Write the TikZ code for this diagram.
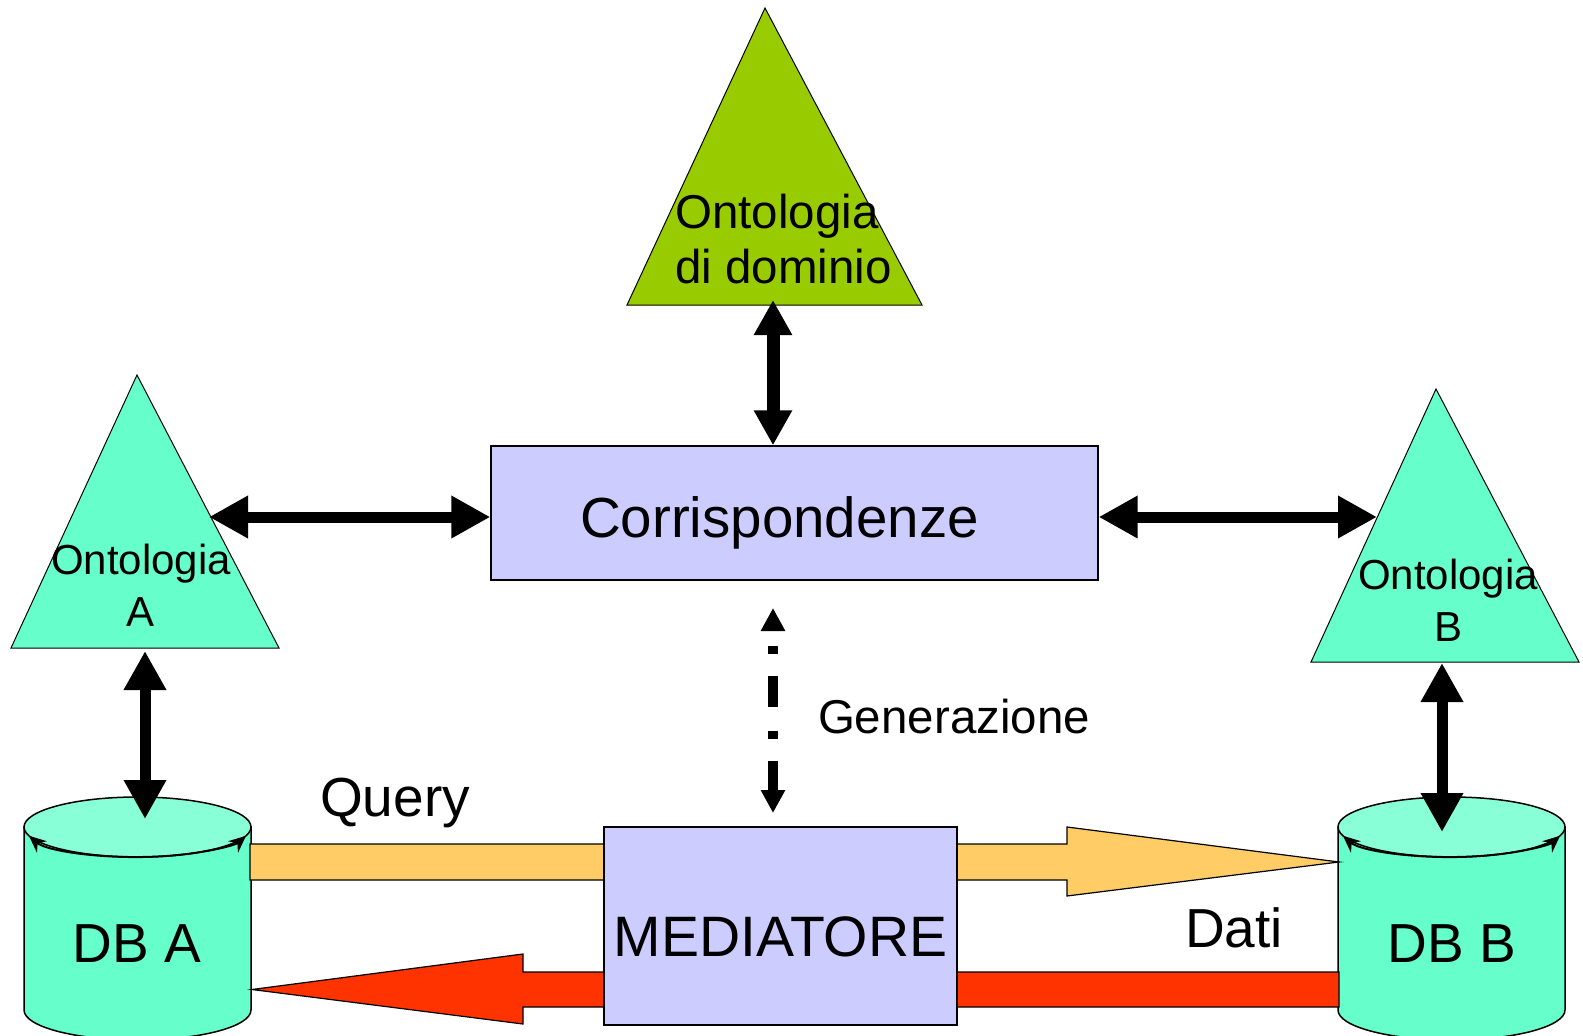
\documentclass[tikz,border=0pt]{standalone}
\usepackage{fontspec}
\setmainfont{Liberation Sans}
\usetikzlibrary{arrows.meta, positioning, calc}
\definecolor{domgreen}{RGB}{153,204,0}
\definecolor{ontaqua}{RGB}{102,255,204}
\definecolor{dbtop}{RGB}{136,255,214}
\definecolor{boxlilac}{RGB}{204,204,255}
\definecolor{queryorange}{RGB}{255,204,102}
\definecolor{datired}{RGB}{255,51,0}
\tikzset{
    ontotri/.style={draw=black, line width=1pt, fill=#1},
    mainbox/.style={rectangle, draw=black, line width=1.3pt, fill=boxlilac, inner sep=0pt},
    dbbody/.style={draw=black, line width=1.5pt, fill=ontaqua},
    blockarrow/.style={draw=black, line width=1.2pt, fill=#1},
    bigtxt/.style={inner sep=0pt, font=\fontsize{55}{62}\selectfont},
    midtxt/.style={inner sep=0pt, font=\fontsize{47.5}{55}\selectfont},
    smalltxt/.style={inner sep=0pt, align=center, font=\fontsize{42}{52}\selectfont},
}

\begin{document}
\begin{tikzpicture}[
    x=1pt, y=-1pt,
    dblarrow/.style={{Triangle[length=39pt, width=40pt]}-{Triangle[length=39pt, width=40pt]}, line width=11pt},
    toparrow/.style={{Triangle[length=35pt, width=36pt]}-{Triangle[length=35pt, width=36pt]}, line width=13pt},
    genarrow/.style={{Triangle[length=23pt, width=23pt]}-{Triangle[length=23pt, width=23pt]}, line width=10pt, dash pattern=on 8pt off 22pt on 31pt off 24pt, dash phase=69pt},
    rimarrow/.style={{Stealth[length=17pt, width=15pt]}-{Stealth[length=17pt, width=15pt]}, line width=2pt}
]
\useasboundingbox (0,0) rectangle (1583,1036);

% Ontologia di dominio
\coordinate (dom-top) at (765,8);
\coordinate (dom-left) at (627,305);
\coordinate (dom-right) at (922,305);
\draw[ontotri=domgreen] (dom-top) -- (dom-right) -- (dom-left) -- cycle;
\node[midtxt, align=left, anchor=base west] (dom-lbl) at (675,283) {Ontologia\\di dominio};

% Ontologia A and B
\coordinate (ontA-top) at (137,375);
\coordinate (ontA-left) at (11,648);
\coordinate (ontA-right) at (279,648);
\draw[ontotri=ontaqua] (ontA-top) -- (ontA-right) -- (ontA-left) -- cycle;
\node[smalltxt, anchor=base] (ontA-lbl) at (141,626) {Ontologia\\A};

\coordinate (ontB-top) at (1436,389);
\coordinate (ontB-left) at (1311,662);
\coordinate (ontB-right) at (1579,662);
\draw[ontotri=ontaqua] (ontB-top) -- (ontB-right) -- (ontB-left) -- cycle;
\node[smalltxt, anchor=base] (ontB-lbl) at (1448,641) {Ontologia\\B};

% Corrispondenze
\node[mainbox, font=\fontsize{56.5}{62}\selectfont, minimum width=607pt, minimum height=134pt, text height=48pt, text depth=0pt] (corr) at (794.5,513) {Corrispondenze\hspace*{30pt}};

% DB A
\coordinate (dbA-c) at (137.5,827);
\draw[dbbody] (24,827) -- (24,1010) arc[start angle=180, end angle=360, x radius=113.5pt, y radius=30pt] -- (251,827) -- cycle;
\draw[dbbody, fill=dbtop] (dbA-c) ellipse [x radius=113.5pt, y radius=30pt];
\draw[rimarrow] ($(dbA-c)+(197:113.5pt and 30pt)$) arc[start angle=197, end angle=343, x radius=113.5pt, y radius=30pt];
\node[bigtxt, anchor=base] (dbA) at (137,962) {DB A};

% DB B
\coordinate (dbB-c) at (1451.5,827);
\draw[dbbody] (1338,827) -- (1338,1010) arc[start angle=180, end angle=360, x radius=113.5pt, y radius=30pt] -- (1565,827) -- cycle;
\draw[dbbody, fill=dbtop] (dbB-c) ellipse [x radius=113.5pt, y radius=30pt];
\draw[rimarrow] ($(dbB-c)+(197:113.5pt and 30pt)$) arc[start angle=197, end angle=343, x radius=113.5pt, y radius=30pt];
\node[bigtxt, anchor=base] (dbB) at (1452,962) {DB B};

% Query and Dati flows
\coordinate (q-tail) at (250,862);
\coordinate (q-tip) at (1339,862);
\draw[blockarrow=queryorange] ([yshift=18pt]q-tail) -- ([xshift=-272pt, yshift=18pt]q-tip) -- ([xshift=-272pt, yshift=35pt]q-tip) -- (q-tip) -- ([xshift=-272pt, yshift=-34pt]q-tip) -- ([xshift=-272pt, yshift=-18pt]q-tip) -- ([yshift=-18pt]q-tail) -- cycle;

\coordinate (d-tail) at (1339,989.5);
\coordinate (d-tip) at (252,989.5);
\draw[blockarrow=datired] ([yshift=17.5pt]d-tail) -- ([xshift=271pt, yshift=17.5pt]d-tip) -- ([xshift=271pt, yshift=35.5pt]d-tip) -- (d-tip) -- ([xshift=271pt, yshift=-34.5pt]d-tip) -- ([xshift=271pt, yshift=-17.5pt]d-tip) -- ([yshift=-17.5pt]d-tail) -- cycle;

% Mediatore
\node[mainbox, font=\fontsize{57}{62}\selectfont, minimum width=353pt, minimum height=198pt, text height=60pt, text depth=0pt] (med) at (780.5,926) {MEDIATORE};

% Labels
\node[bigtxt, anchor=base] (query-lbl) at (395,816) {Query};
\node[bigtxt, anchor=base] (dati-lbl) at (1234,947) {Dati};
\node[midtxt, anchor=base] (gen-lbl) at (954,733) {Generazione};

% Connectors
\coordinate (dom-foot) at (773,300);
\draw[toparrow] (dom-foot) -- (dom-foot |- corr.north);

\coordinate (ontA-edge) at (209,517);
\draw[dblarrow] (ontA-edge) -- (corr.west |- ontA-edge);
\coordinate (ontB-edge) at (1377,517);
\draw[dblarrow] (corr.east |- ontB-edge) -- (ontB-edge);

\coordinate (ontA-foot) at (145,651);
\coordinate (dbA-head) at (145,819);
\draw[dblarrow] (ontA-foot) -- (dbA-head);
\coordinate (ontB-foot) at (1442,663);
\coordinate (dbB-head) at (1442,832);
\draw[dblarrow] (ontB-foot) -- (dbB-head);

\coordinate (gen-top) at (773,608);
\coordinate (gen-bot) at (773,813);
\draw[genarrow] (gen-top) -- (gen-bot);

\end{tikzpicture}
\end{document}
